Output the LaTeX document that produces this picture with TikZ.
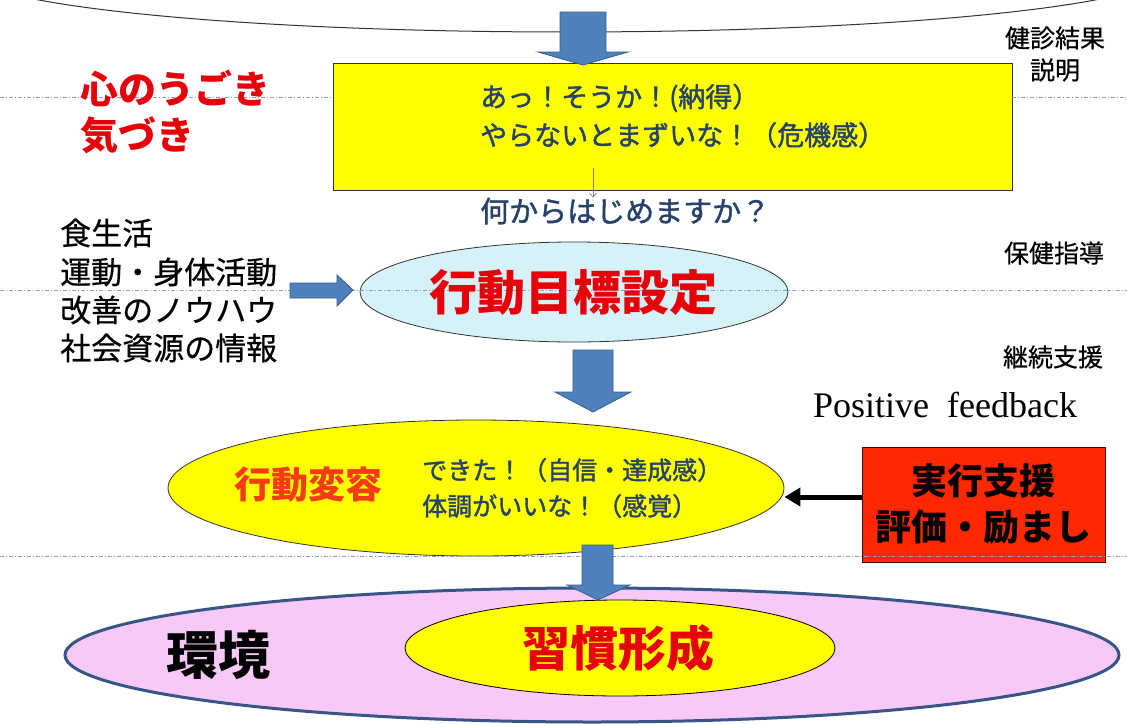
\documentclass[tikz,border=0pt]{standalone}
\usepackage{fontspec}
\setmainfont{Liberation Serif}
\newfontfamily\jp{Noto Sans CJK JP}
\newfontfamily\jpm{Noto Sans CJK JP}[FakeBold=1.4]
\newfontfamily\jpl{Noto Sans CJK JP}[FakeBold=0.5]
\usetikzlibrary{arrows.meta,shapes.geometric}
\definecolor{arrowblue}{RGB}{79,129,189}
\definecolor{arrowedge}{RGB}{56,93,138}
\definecolor{darkbluetext}{RGB}{38,66,104}
\definecolor{redtext}{RGB}{230,0,10}
\definecolor{orangetext}{RGB}{245,60,20}
\definecolor{boxyellow}{RGB}{255,255,0}
\definecolor{lightcyan}{RGB}{214,242,249}
\definecolor{pinkfill}{RGB}{248,200,246}
\definecolor{pinkedge}{RGB}{55,85,135}
\definecolor{redbox}{RGB}{255,40,0}
\definecolor{dashgray}{RGB}{140,160,195}
\tikzset{
  blockarrow/.style={fill=arrowblue,draw=arrowedge,line width=0.8pt,line join=miter},
  guideline/.style={draw=dashgray,line width=0.8pt,dash pattern=on 4pt off 2pt on 1pt off 2pt},
  jptext/.style={font=\jp\fontsize{#1}{#1}\selectfont,inner sep=0pt},
  bluetext/.style={font=\jpm\fontsize{#1}{#1}\selectfont,inner sep=0pt,text=darkbluetext},
  blacktext/.style={font=\jpl\fontsize{#1}{#1}\selectfont,inner sep=0pt},
  boldtext/.style={font=\jp\bfseries\fontsize{#1}{#1}\selectfont,inner sep=0pt},
  ellipsenode/.style={ellipse,inner sep=0pt,draw=black,line width=0.8pt},
}
\begin{document}
\begin{tikzpicture}[x=1pt,y=-1pt]
\useasboundingbox (0,0) rectangle (1127,723);
\clip (0,0) rectangle (1127,723);
\fill[white] (0,0) rectangle (1127,723);

% top curve (bottom of a large ellipse)
\draw[line width=1pt,black!80] (567,-29) ellipse [x radius=600, y radius=61];

% yellow box
\node[draw=black!80,line width=0.8pt,fill=boxyellow,minimum width=679pt,minimum height=127pt,inner sep=0pt] (box) at (672.5,126.5) {};

% guide lines
\draw[guideline] (0,97) -- (box.west |- 0,97);
\draw[guideline] (box.east |- 0,97) -- (1127,97);

% arrow 1
\draw[blockarrow] (560,12) -- (606,12) -- (606,52) -- (628,52) -- (583,65) -- (538,52) -- (560,52) -- cycle;

% texts in and around box
\node[boldtext=38,text=redtext,anchor=west] (mind1) at (80,88) {心のうごき};
\node[boldtext=38,text=redtext,anchor=west] (mind2) at (80,135) {気づき};
\node[bluetext=27,anchor=west] (ah) at (480,98) {あっ！そうか！(納得）};
\node[bluetext=27,anchor=west] (yaranai) at (480,135) {やらないとまずいな！（危機感）};
\coordinate (smallstart) at (593,168);
\node[bluetext=29,anchor=west] (nani) at (480,211) {何からはじめますか？};
\draw[black!50,line width=0.7pt,-{Straight Barb[length=4pt,width=7pt]}] (smallstart) -- (smallstart |- nani.north);

\node[blacktext=25,align=center] (kenshin) at (1055,54) {健診結果\\[7pt]説明};

% left list
\node[blacktext=31,anchor=west] (l1) at (60,233) {食生活};
\node[blacktext=31,anchor=west] (l2) at (60,272) {運動・身体活動};
\node[blacktext=31,anchor=west] (l3) at (60,310) {改善のノウハウ};
\node[blacktext=31,anchor=west] (l4) at (60,348) {社会資源の情報};

% goal ellipse
\node[ellipsenode,draw=black!80,fill=lightcyan,minimum width=428pt,minimum height=100pt] (goal) at (574,292) {};
\draw[guideline] (0,290) -- (1127,290);
\node[boldtext=48,text=redtext] (goaltext) at (573,292) {行動目標設定};

% right block arrow
\draw[blockarrow] (290,283) -- (337,283) -- (337,275) -- (353,290) -- (337,306) -- (337,298) -- (290,298) -- cycle;

\node[blacktext=25] (hoken) at (1054,253) {保健指導};
\node[blacktext=25] (keizoku) at (1053,357) {継続支援};
\node[font=\fontsize{36}{36}\selectfont,inner sep=0pt] (pf) at (945,405) {Positive\ \ feedback};

% arrow 2
\draw[blockarrow] (573,350) -- (613,350) -- (613,392) -- (631,392) -- (593,412) -- (555,392) -- (573,392) -- cycle;

% behaviour change ellipse
\node[ellipsenode,draw=black!80,fill=boxyellow,minimum width=616pt,minimum height=136pt] (change) at (476,488) {};
\node[boldtext=37,text=orangetext] (changetext) at (308,485) {行動変容};
\node[bluetext=25,anchor=west] (dekita) at (422,470) {できた！（自信・達成感）};
\node[bluetext=25,anchor=west] (taicho) at (422,506) {体調がいいな！（感覚）};

% red box
\node[draw=black!70!red,line width=0.8pt,fill=redbox,minimum width=243pt,minimum height=115pt,inner sep=0pt] (support) at (983.5,504.5) {};
\node[boldtext=36] (s1) at (983,481) {実行支援};
\node[boldtext=36] (s2) at (983,527) {評価・励まし};

\draw[guideline] (0,556) -- (1127,556);

% black arrow from support box to change ellipse
\draw[line width=5pt,-{Triangle[length=16pt,width=18pt]}] (support.west |- 0,497) -- (change.east |- 0,497);

% environment ellipse
\node[ellipse,inner sep=0pt,draw=pinkedge,line width=3pt,fill=pinkfill,minimum width=1054pt,minimum height=134pt] (env) at (592,655) {};
\node[ellipsenode,fill=boxyellow,minimum width=430pt,minimum height=96pt] (habit) at (620,648) {};
\node[boldtext=48,text=redtext] (habittext) at (618,648) {習慣形成};
\node[boldtext=52] (envtext) at (218,655) {環境};

% arrow 3
\draw[blockarrow] (582,545) -- (613,545) -- (613,585) -- (630,585) -- (598,600) -- (567,585) -- (582,585) -- cycle;
\end{tikzpicture}
\end{document}
